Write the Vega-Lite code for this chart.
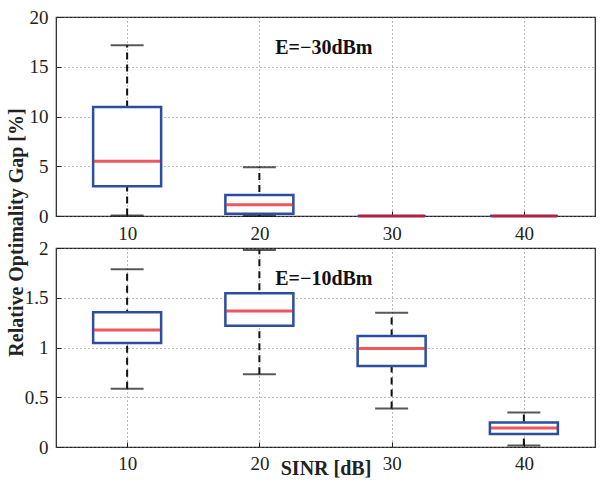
{
  "$schema": "https://vega.github.io/schema/vega-lite/v6.json",
  "background": "white",
  "padding": {"left": 5, "top": 7, "right": 2, "bottom": 0},
  "bounds": "flush",
  "spacing": 32,
  "datasets": {
    "top": [
      {"sinr": 10, "lower": 0.05, "q1": 3.0, "median": 5.5, "q3": 10.95, "upper": 17.15},
      {"sinr": 20, "lower": 0.0, "q1": 0.22, "median": 1.12, "q3": 2.12, "upper": 4.9},
      {"sinr": 30, "lower": 0.0, "q1": 0.0, "median": 0.0, "q3": 0.0, "upper": 0.0},
      {"sinr": 40, "lower": 0.0, "q1": 0.0, "median": 0.0, "q3": 0.0, "upper": 0.0}
    ],
    "bottom": [
      {"sinr": 10, "lower": 0.585, "q1": 1.045, "median": 1.175, "q3": 1.355, "upper": 1.786},
      {"sinr": 20, "lower": 0.73, "q1": 1.218, "median": 1.366, "q3": 1.546, "upper": 1.98},
      {"sinr": 30, "lower": 0.387, "q1": 0.815, "median": 0.99, "q3": 1.115, "upper": 1.35},
      {"sinr": 40, "lower": 0.014, "q1": 0.13, "median": 0.19, "q3": 0.246, "upper": 0.346}
    ],
    "labTop": [{"sinr": 21.2, "y": 16.85, "label": "E=−30dBm"}],
    "labBottom": [{"sinr": 21.2, "y": 1.69, "label": "E=−10dBm"}]
  },
  "config": {
    "font": "Liberation Serif",
    "view": {"stroke": "#222", "strokeWidth": 1.2},
    "axis": {
      "labelFont": "Liberation Serif",
      "labelFontSize": 19,
      "labelColor": "#222",
      "titleFont": "Liberation Serif",
      "titleFontSize": 20,
      "titleFontWeight": "bold",
      "titleColor": "#222",
      "gridColor": "#777",
      "gridDash": [1, 3],
      "gridWidth": 1,
      "tickColor": "#222",
      "tickSize": -5,
      "domain": false,
      "labelPadding": 13
    }
  },
  "vconcat": [
    {
      "width": 539,
      "height": 199,
      "data": {"name": "top"},
      "layer": [
        {
          "mark": {"type": "rule", "color": "#111", "strokeWidth": 2, "strokeDash": [7, 5]},
          "encoding": {
            "x": {"field": "sinr", "type": "quantitative", "scale": {"domain": [5, 45], "nice": false, "zero": false},
                  "axis": {"orient": "bottom", "values": [10, 20, 30, 40], "format": "d", "grid": true, "title": null}},
            "y": {"field": "lower", "type": "quantitative", "scale": {"domain": [0, 20], "nice": false},
                  "axis": {"orient": "left", "values": [0, 5, 10, 15, 20], "format": "~g", "grid": true,
                           "title": "Relative Optimality Gap [%]", "titleY": 215, "titlePadding": 3}},
            "y2": {"field": "upper"}
          }
        },
        {
          "mark": {"type": "tick", "orient": "horizontal", "color": "#111", "size": 33, "thickness": 2},
          "encoding": {
            "x": {"field": "sinr", "type": "quantitative"},
            "y": {"field": "upper", "type": "quantitative"}
          }
        },
        {
          "mark": {"type": "tick", "orient": "horizontal", "color": "#111", "size": 33, "thickness": 2},
          "encoding": {
            "x": {"field": "sinr", "type": "quantitative"},
            "y": {"field": "lower", "type": "quantitative"}
          }
        },
        {
          "mark": {"type": "bar", "fill": "white", "stroke": "#2b4ea3", "strokeWidth": 2.5, "size": 68},
          "encoding": {
            "x": {"field": "sinr", "type": "quantitative"},
            "y": {"field": "q1", "type": "quantitative"},
            "y2": {"field": "q3"}
          }
        },
        {
          "mark": {"type": "tick", "orient": "horizontal", "color": "#e8101a", "size": 66, "thickness": 3},
          "encoding": {
            "x": {"field": "sinr", "type": "quantitative"},
            "y": {"field": "median", "type": "quantitative"}
          }
        },
        {
          "data": {"name": "labTop"},
          "mark": {"type": "text", "align": "left", "baseline": "middle", "fontSize": 20, "fontWeight": "bold", "font": "Liberation Serif", "color": "#111"},
          "encoding": {
            "x": {"field": "sinr", "type": "quantitative"},
            "y": {"field": "y", "type": "quantitative"},
            "text": {"field": "label"}
          }
        }
      ]
    },
    {
      "width": 539,
      "height": 199,
      "data": {"name": "bottom"},
      "layer": [
        {
          "mark": {"type": "rule", "color": "#111", "strokeWidth": 2, "strokeDash": [7, 5]},
          "encoding": {
            "x": {"field": "sinr", "type": "quantitative", "scale": {"domain": [5, 45], "nice": false, "zero": false},
                  "axis": {"orient": "bottom", "values": [10, 20, 30, 40], "format": "d", "grid": true, "title": "SINR [dB]",
                           "titlePadding": -15, "labelPadding": 12}},
            "y": {"field": "lower", "type": "quantitative", "scale": {"domain": [0, 2], "nice": false},
                  "axis": {"orient": "left", "values": [0, 0.5, 1, 1.5, 2], "format": "~g", "grid": true, "title": null}},
            "y2": {"field": "upper"}
          }
        },
        {
          "mark": {"type": "tick", "orient": "horizontal", "color": "#111", "size": 33, "thickness": 2},
          "encoding": {
            "x": {"field": "sinr", "type": "quantitative"},
            "y": {"field": "upper", "type": "quantitative"}
          }
        },
        {
          "mark": {"type": "tick", "orient": "horizontal", "color": "#111", "size": 33, "thickness": 2},
          "encoding": {
            "x": {"field": "sinr", "type": "quantitative"},
            "y": {"field": "lower", "type": "quantitative"}
          }
        },
        {
          "mark": {"type": "bar", "fill": "white", "stroke": "#2b4ea3", "strokeWidth": 2.5, "size": 68},
          "encoding": {
            "x": {"field": "sinr", "type": "quantitative"},
            "y": {"field": "q1", "type": "quantitative"},
            "y2": {"field": "q3"}
          }
        },
        {
          "mark": {"type": "tick", "orient": "horizontal", "color": "#e8101a", "size": 66, "thickness": 3},
          "encoding": {
            "x": {"field": "sinr", "type": "quantitative"},
            "y": {"field": "median", "type": "quantitative"}
          }
        },
        {
          "data": {"name": "labBottom"},
          "mark": {"type": "text", "align": "left", "baseline": "middle", "fontSize": 20, "fontWeight": "bold", "font": "Liberation Serif", "color": "#111"},
          "encoding": {
            "x": {"field": "sinr", "type": "quantitative"},
            "y": {"field": "y", "type": "quantitative"},
            "text": {"field": "label"}
          }
        }
      ]
    }
  ]
}
